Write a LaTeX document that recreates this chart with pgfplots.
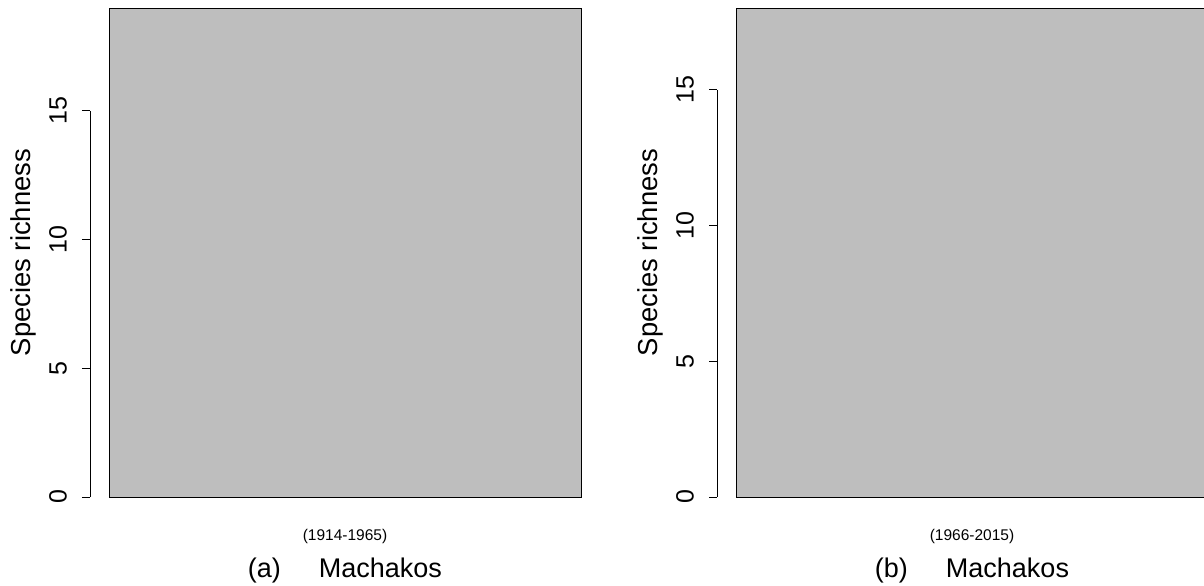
\documentclass[border=0pt]{standalone}
\usepackage{pgfplots}
\usepackage{pgfplotstable}
\pgfplotsset{compat=1.18}
\usepackage{fontspec}
\setmainfont{Liberation Sans}
\definecolor{bargray}{RGB}{190,190,190}

\pgfplotstableread{
x y
0.5 19
}\dataA
\pgfplotstableread{
x y
0.5 18
}\dataB

\pgfplotsset{
 rstyle/.style={
  scale only axis, width=236pt, height=244.5pt,
  anchor=south west,
  xmin=0, xmax=1, ymin=0, enlargelimits=false, clip=false,
  axis x line*=bottom, axis y line*=left,
  axis y line shift=9.5pt,
  x axis line style={draw=none}, y axis line style={draw=none},
  xtick={0.5}, major x tick style={draw=none},
  ytick={0,5,10,15}, yticklabels={0,5,10,15},
  tick align=outside, major tick length=4pt,
  major y tick style={line width=0.5pt, black},
  every y tick label/.append style={rotate=90, anchor=south, font=\fontsize{12.5}{14}\selectfont},
  yticklabel shift=4pt,
  every x tick label/.append style={anchor=center, yshift=-15.5pt, font=\fontsize{7.75}{9}\selectfont},
  every axis y label/.style={at={(axis description cs:-0.182,0.5)}, rotate=90, anchor=center, font=\fontsize{13.7}{16}\selectfont},
  every axis x label/.style={at={(axis description cs:0.5,-0.151)}, anchor=center, font=\fontsize{13.5}{16}\selectfont},
  ylabel={Species richness},
 }
}

\begin{document}
\begin{tikzpicture}
\useasboundingbox (0,0) rectangle (602pt,-292.5pt);
\begin{axis}[rstyle, at={(54.5pt,-248.5pt)}, ymax=19,
  xticklabels={(1914-1965)}, xlabel={(a)\hspace{19pt}Machakos}]
  \draw[line width=0.5pt] ([xshift=-9.5pt]axis cs:0,0) -- ([xshift=-9.5pt]axis cs:0,15);
  \addplot[ybar, bar width=1, fill=bargray, draw=black, line width=0.5pt] table[x=x,y=y]{\dataA};
\end{axis}
\begin{axis}[rstyle, at={(368pt,-248.5pt)}, ymax=18,
  xticklabels={(1966-2015)}, xlabel={(b)\hspace{19pt}Machakos}]
  \draw[line width=0.5pt] ([xshift=-9.5pt]axis cs:0,0) -- ([xshift=-9.5pt]axis cs:0,15);
  \addplot[ybar, bar width=1, fill=bargray, draw=black, line width=0.5pt] table[x=x,y=y]{\dataB};
\end{axis}
\end{tikzpicture}
\end{document}
